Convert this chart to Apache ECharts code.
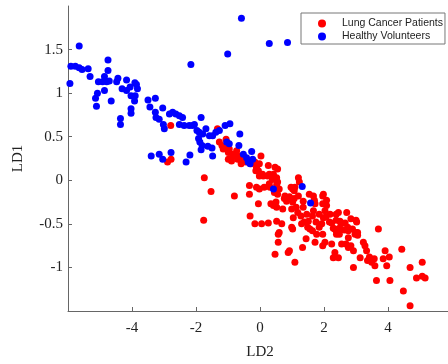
<!DOCTYPE html>
<html>
<head>
<meta charset="utf-8">
<script src="https://cdn.jsdelivr.net/npm/echarts@6/dist/echarts.min.js"></script>
<style>html,body{margin:0;padding:0;background:#fff;}#c{width:448px;height:364px;}</style>
</head>
<body>
<div id="c"></div>
<script>
const seriesNames = ['Lung Cancer Patients', 'Healthy Volunteers'];
const xAxisName = 'LD2';
const yAxisName = 'LD1';
const xRange = [-6, 6, 2];
const yRange = [-1.5, 2, 0.5];

const cancerPoints = [
[-2.79,0.63],[-2.89,0.21],[-2.78,0.24],[-1.74,0.03],[-1.33,0.59],[-1.27,0.44],[-1.19,0.40],[-1.06,0.47],[-1.15,0.36],[-0.99,0.32],
[-0.73,0.34],[-0.83,0.28],[-0.99,0.24],[-0.89,0.22],[-0.16,0.21],[-0.11,0.15],[-0.05,0.11],[0.10,0.05],[0.03,0.28],[0.26,0.17],
[0.47,0.15],[0.42,0.07],[0.52,0.03],[1.20,0.03],[-0.59,0.19],[-0.44,0.21],[-0.28,0.19],[-0.02,0.19],[-0.13,0.11],[-0.02,0.05],
[0.24,0.05],[0.55,0.13],[0.55,-0.02],[0.45,-0.14],[0.29,-0.04],[0.13,-0.08],[-0.33,-0.06],[-0.33,-0.16],[-0.80,-0.18],[-1.53,-0.13],
[-1.76,-0.46],[-0.11,-0.08],[0.31,-0.08],[0.52,-0.05],[-0.05,-0.27],[-0.31,-0.41],[-0.16,-0.50],[0.05,-0.50],[0.26,-0.49],[0.42,-0.29],
[0.52,-0.31],[0.52,-0.47],[0.68,-0.50],[0.57,-0.62],[0.57,-0.71],[0.47,-0.85],[0.88,-0.83],[1.09,-0.94],[0.99,-0.54],[1.04,-0.43],
[0.99,-0.33],[0.83,-0.24],[0.78,-0.18],[1.09,-0.08],[1.20,-0.18],[1.35,-0.24],[1.35,-0.31],[1.30,-0.50],[1.33,-0.77],[1.46,-0.39],
[1.51,-0.47],[1.56,-0.56],[1.67,-0.18],[1.72,-0.27],[1.67,-0.35],[1.72,-0.71],[1.77,-0.62],[1.93,-0.50],[1.98,-0.43],[2.03,-0.35],
[2.08,-0.29],[1.98,-0.16],[2.08,-0.23],[2.03,-0.71],[2.24,-0.73],[2.34,-0.83],[2.29,-0.89],[2.45,-0.89],[2.19,-0.39],[2.24,-0.49],
[2.34,-0.56],[2.39,-0.62],[2.29,-0.55],[2.48,-0.55],[2.63,-0.57],[2.76,-0.58],[2.45,-0.37],[2.50,-0.47],[2.66,-0.49],[2.71,-0.37],
[2.55,-0.73],[2.76,-0.77],[2.92,-0.81],[2.92,-1.00],[2.76,-0.66],[2.97,-0.62],[3.02,-0.48],[3.05,-0.60],[3.13,-0.89],[3.23,-0.71],
[3.28,-0.75],[3.33,-0.81],[3.44,-0.90],[3.49,-0.94],[3.59,-0.98],[3.70,-0.56],[3.64,-1.15],[3.85,-0.90],[3.91,-0.81],[4.04,-0.88],
[3.96,-0.98],[4.06,-1.15],[4.43,-0.79],[4.48,-1.27],[4.69,-1.44],[4.69,-1.00],[4.89,-1.12],[5.07,-0.94],[5.07,-1.10],[5.16,-1.12],
[-1.12,0.38],[-0.96,0.36],[-0.86,0.30],[-0.70,0.24],[0.08,0.07],[-0.02,-0.10],[0.34,-0.27],[0.76,-0.21],[0.92,-0.19],[1.02,-0.25],
[1.13,-0.31],[1.18,-0.37],[0.97,-0.08],[1.07,-0.12],[1.23,-0.02],[1.54,-0.16],[0.29,0.07],[0.39,0.01],[0.60,-0.10],[0.55,-0.16],
[1.02,-0.10],[1.07,-0.21],[0.71,-0.33],[0.50,-0.25],[0.60,-0.60],[1.02,-0.56],[0.92,-0.81],[1.28,-0.41],[1.38,-0.48],[1.49,-0.54],
[1.64,-0.58],[1.44,-0.67],[1.70,-0.23],[1.85,-0.39],[1.96,-0.18],[1.96,-0.27],[1.64,-0.41],[1.75,-0.48],[1.85,-0.54],[1.96,-0.62],
[2.06,-0.42],[2.17,-0.48],[2.38,-0.58],[2.48,-0.62],[2.38,-0.39],[2.38,-0.46],[2.53,-0.50],[2.74,-0.54],[2.89,-0.56],[2.84,-0.44],
[3.00,-0.46],[3.00,-0.60],[3.05,-0.63],[2.69,-0.73],[2.84,-0.75],[3.42,-0.88],[3.36,-0.92],[3.57,-0.90],[1.96,-0.75],
[-1.01,0.40],[-0.75,0.30],[-0.65,0.28],[-0.54,0.26],[-0.44,0.24]
];

const healthyPoints = [
[-5.65,1.54],[-5.94,1.11],[-5.91,1.31],[-5.77,1.31],[-5.65,1.29],[-5.56,1.27],[-5.37,1.28],[-5.31,1.19],[-4.75,1.38],[-4.75,1.26],
[-5.05,1.13],[-4.92,1.13],[-4.79,1.13],[-4.71,1.14],[-4.86,1.19],[-4.44,1.17],[-4.48,1.13],[-4.17,1.15],[-3.91,1.12],[-3.86,1.10],
[-5.14,0.94],[-5.08,1.00],[-4.86,1.03],[-4.65,0.91],[-5.11,0.85],[-4.36,0.71],[-4.36,0.64],[-4.31,1.05],[-4.17,1.03],[-4.06,1.07],
[-4.03,0.97],[-3.90,0.97],[-3.83,1.05],[-4.03,0.82],[-4.03,0.77],[-3.92,0.91],[-3.50,0.92],[-3.44,0.84],[-3.27,0.94],[-3.27,0.78],
[-3.25,0.72],[-3.15,0.70],[-3.04,0.83],[-3.02,0.64],[-2.99,0.59],[-2.83,0.76],[-2.73,0.78],[-2.63,0.76],[-2.52,0.74],[-2.42,0.72],
[-2.52,0.64],[-2.37,0.63],[-2.21,0.63],[-2.11,0.63],[-2.05,0.64],[-2.16,1.33],[-1.84,0.72],[-1.97,0.57],[-1.90,0.55],[-1.79,0.53],
[-1.69,0.59],[-1.58,0.51],[-1.48,0.51],[-1.38,0.55],[-1.27,0.57],[-1.92,0.48],[-1.88,0.44],[-1.81,0.40],[-1.63,0.39],[-1.50,0.37],
[-3.40,0.28],[-3.15,0.30],[-3.04,0.24],[-2.78,0.32],[-2.19,0.29],[-2.31,0.21],[-1.84,0.35],[-1.48,0.28],[-0.58,1.86],[-1.01,1.45],
[0.29,1.57],[0.86,1.58],[-0.94,0.65],[-1.09,0.63],[-0.63,0.53],[-1.04,0.44],[-0.96,0.42],[-0.66,0.40],[-0.26,0.33],[-0.52,0.30],
[-0.42,0.26],[-0.37,0.21],[-0.31,0.19],[-0.23,0.24],[0.42,-0.10],[1.32,-0.07],[1.58,-0.26]
];

const chart = echarts.init(document.getElementById('c'), null, {renderer: 'canvas'});
const axisColor = '#666';
const labelFont = {fontFamily: 'Liberation Serif', fontSize: 15, color: '#222'};
chart.setOption({
  animation: false,
  backgroundColor: '#fff',
  grid: {left: 68, top: 6, right: -4, bottom: 53, containLabel: false, outerBoundsMode: 'none'},
  legend: {
    orient: 'vertical', left: 301, top: 13,
    padding: [5, 2, 2, 17], itemGap: 2,
    itemWidth: 30, itemHeight: 8, icon: 'circle',
    borderColor: '#777', borderWidth: 1, backgroundColor: '#fff',
    textStyle: {fontFamily: 'Liberation Sans', fontSize: 10.5, color: '#222'},
    data: seriesNames
  },
  xAxis: {
    type: 'value', min: xRange[0], max: xRange[1], interval: xRange[2],
    name: xAxisName, nameLocation: 'middle', nameGap: 34,
    nameTextStyle: labelFont,
    axisLine: {show: true, onZero: false, lineStyle: {color: axisColor, width: 1}},
    axisTick: {show: true, inside: true, length: 4, lineStyle: {color: axisColor}},
    axisLabel: Object.assign({margin: 10, showMinLabel: false}, labelFont),
    splitLine: {show: false}
  },
  yAxis: {
    type: 'value', min: yRange[0], max: yRange[1], interval: yRange[2],
    name: yAxisName, nameLocation: 'middle', nameGap: 42, nameRotate: 90,
    nameTextStyle: labelFont,
    axisLine: {show: true, onZero: false, lineStyle: {color: axisColor, width: 1}},
    axisTick: {show: true, inside: true, length: 4, lineStyle: {color: axisColor}},
    axisLabel: Object.assign({margin: 5, showMinLabel: false, showMaxLabel: false}, labelFont),
    splitLine: {show: false}
  },
  series: [
    {name: seriesNames[0], type: 'scatter', symbol: 'circle', symbolSize: 7,
     itemStyle: {color: '#ff0000', opacity: 1}, data: cancerPoints},
    {name: seriesNames[1], type: 'scatter', symbol: 'circle', symbolSize: 7,
     itemStyle: {color: '#0000ff', opacity: 1}, data: healthyPoints}
  ]
});
</script>
</body>
</html>
